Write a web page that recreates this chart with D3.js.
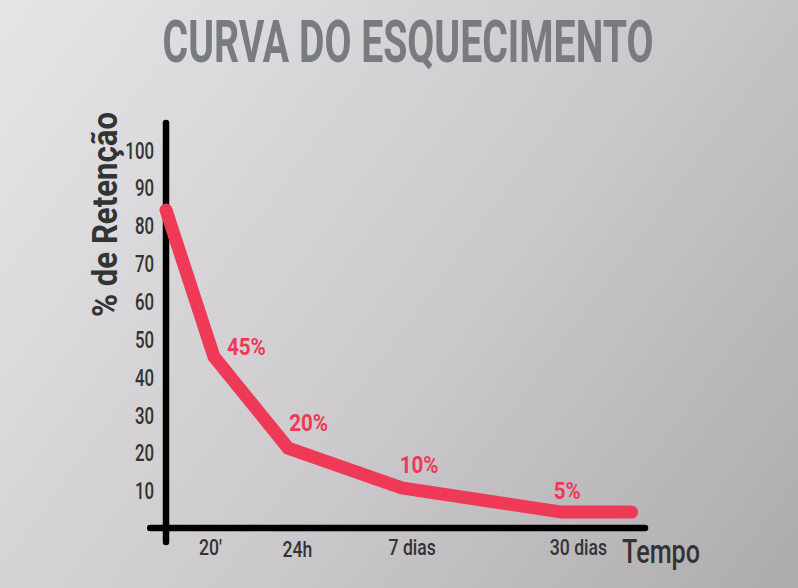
<!DOCTYPE html>
<html>
<head>
<meta charset="utf-8">
<script src="https://cdn.jsdelivr.net/npm/d3@7"></script>
<style>
  html, body { margin: 0; padding: 0; }
  body { width: 798px; height: 588px; overflow: hidden; }
  svg { display: block; }
</style>
</head>
<body>
<svg id="chart"></svg>
<script>
// data
const title = 'CURVA DO ESQUECIMENTO';
const yLabel = '% de Retenção';
const xLabel = 'Tempo';

// curve: visual time position (0..10) and retention %
const curveTime = [0, 1.0, 2.55, 4.92, 8.26, 9.72];
const curveValue = [84, 45.3, 21.1, 10.6, 4.2, 4.2];

const pctLabels = ['45%', '20%', '10%', '5%'];
const pctIndex = [1, 2, 3, 4];

const xTickLabels = ["20'", '24h', '7 dias', '30 dias'];
const xTickPos = [0.92, 2.73, 5.13, 8.6];

const yTicks = [10, 20, 30, 40, 50, 60, 70, 80, 90, 100];

// label nudges (layout only)
const pctDx = [13, 1, -2, -8];
const pctDy = [-2, -17, -15, -13];

const width = 798, height = 588;
const pink = '#ee3a57';
const dark = '#333333';
const font = 'Roboto, "Liberation Sans", sans-serif';

const svg = d3.select('#chart')
  .attr('width', width)
  .attr('height', height);

const defs = svg.append('defs');
const grad = defs.append('linearGradient')
  .attr('id', 'bg')
  .attr('gradientUnits', 'userSpaceOnUse')
  .attr('x1', 0).attr('y1', 0)
  .attr('x2', width).attr('y2', height);
grad.append('stop').attr('offset', '0%').attr('stop-color', '#e5e5e7');
grad.append('stop').attr('offset', '55%').attr('stop-color', '#ccc9cc');
grad.append('stop').attr('offset', '100%').attr('stop-color', '#aeabae');

svg.append('rect')
  .attr('width', width)
  .attr('height', height)
  .attr('fill', 'url(#bg)');

const x = d3.scaleLinear().domain([0, 10]).range([166, 645]);
const y = d3.scaleLinear().domain([0, 100]).range([528, 149.5]);

// squeeze a normal font so it reads like the condensed face
function condense(sel, k) {
  sel.each(function() {
    const w = this.getComputedTextLength();
    d3.select(this)
      .attr('textLength', w * k)
      .attr('lengthAdjust', 'spacingAndGlyphs');
  });
}

// title
svg.append('text')
  .attr('x', 162.5)
  .attr('y', 62)
  .attr('textLength', 491)
  .attr('lengthAdjust', 'spacingAndGlyphs')
  .style('font-family', font)
  .style('font-weight', 'bold')
  .style('font-size', '60px')
  .style('fill', '#787c7e')
  .text(title);

// axes lines
svg.append('line')
  .attr('x1', x(0)).attr('x2', x(0))
  .attr('y1', y(107)).attr('y2', y(-3.7))
  .attr('stroke', '#000')
  .attr('stroke-width', 6.5)
  .attr('stroke-linecap', 'round');

svg.append('line')
  .attr('x1', x(-0.33)).attr('x2', x(10))
  .attr('y1', y(0)).attr('y2', y(0))
  .attr('stroke', '#000')
  .attr('stroke-width', 6.5)
  .attr('stroke-linecap', 'round');

// y tick labels
const yAxis = svg.append('g')
  .attr('transform', `translate(${x(0)},0)`)
  .call(d3.axisLeft(y).tickValues(yTicks).tickSize(0).tickPadding(12));
yAxis.select('.domain').remove();
yAxis.selectAll('text')
  .style('font-family', font)
  .style('font-size', '24px')
  .style('font-weight', 500)
  .style('fill', dark)
  .attr('dy', '0.36em');
condense(yAxis.selectAll('text'), 0.7);

// x tick labels
const xAxis = svg.append('g')
  .attr('transform', `translate(0,${y(0)})`)
  .call(d3.axisBottom(x).tickValues(xTickPos).tickSize(0).tickPadding(0)
    .tickFormat((d, i) => xTickLabels[i]));
xAxis.select('.domain').remove();
xAxis.selectAll('text')
  .style('font-family', font)
  .style('font-size', '22px')
  .style('font-weight', 500)
  .style('fill', dark)
  .attr('dy', null)
  .attr('y', (d, i) => i === 1 ? 28.5 : 27);
condense(xAxis.selectAll('text'), 0.8);

// axis titles
svg.append('text')
  .attr('transform', `translate(117,${(112 + 317) / 2}) rotate(-90)`)
  .attr('text-anchor', 'middle')
  .attr('textLength', 205)
  .attr('lengthAdjust', 'spacingAndGlyphs')
  .style('font-family', font)
  .style('font-size', '35px')
  .style('font-weight', 'bold')
  .style('fill', dark)
  .text(yLabel);

svg.append('text')
  .attr('x', 622)
  .attr('y', 563)
  .attr('textLength', 78)
  .attr('lengthAdjust', 'spacingAndGlyphs')
  .style('font-family', font)
  .style('font-size', '34px')
  .style('font-weight', 500)
  .style('fill', dark)
  .text(xLabel);

// curve
const pts = curveTime.map((t, i) => ({ t, v: curveValue[i] }));
const line = d3.line()
  .x(d => x(d.t))
  .y(d => y(d.v));

svg.append('path')
  .datum(pts)
  .attr('d', line)
  .attr('fill', 'none')
  .attr('stroke', pink)
  .attr('stroke-width', 13)
  .attr('stroke-linecap', 'round')
  .attr('stroke-linejoin', 'miter');

// percentage labels
const lbl = svg.selectAll('.pct')
  .data(pctLabels)
  .enter().append('text')
  .attr('class', 'pct')
  .attr('x', (d, i) => x(pts[pctIndex[i]].t) + pctDx[i])
  .attr('y', (d, i) => y(pts[pctIndex[i]].v) + pctDy[i])
  .style('font-family', font)
  .style('font-weight', 'bold')
  .style('font-size', '24px')
  .style('fill', pink)
  .text(d => d);
condense(lbl, 0.86);
</script>
</body>
</html>
